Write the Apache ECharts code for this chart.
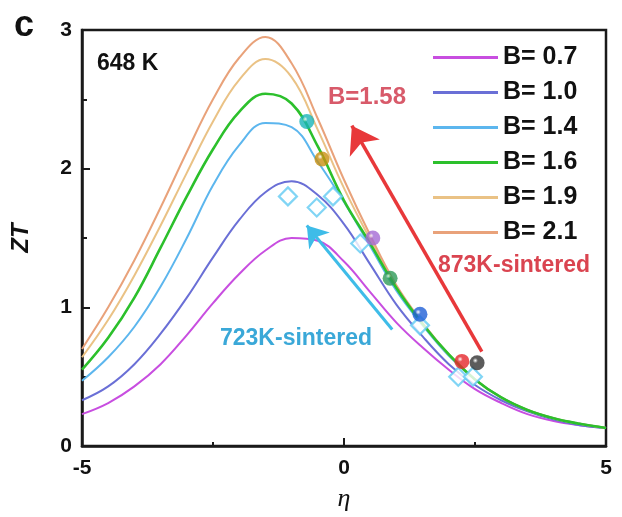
<!DOCTYPE html>
<html>
<head>
<meta charset="utf-8">
<script src="https://cdn.jsdelivr.net/npm/echarts@6/dist/echarts.min.js"></script>
<style>
html, body { margin: 0; padding: 0; background: #fff; }
#zt { width: 622px; height: 517px; }
</style>
</head>
<body>
<div id="zt"></div>
<script>
var names = ['B= 0.7', 'B= 1.0', 'B= 1.4', 'B= 1.6', 'B= 1.9', 'B= 2.1'];
var colors = ['#c84ee0', '#6a6fd6', '#5cb6ee', '#2cc02c', '#eac285', '#e9a27a'];

// eta grid and ZT values
var eta = [-5, -4.5, -4, -3.5, -3, -2.5, -2, -1.5, -1, -0.5, 0, 0.5, 1, 1.5, 2, 2.5, 3, 3.5, 4, 4.5, 5];
var b07 = [0.23, 0.31, 0.43, 0.59, 0.80, 1.03, 1.24, 1.41, 1.50, 1.48, 1.33, 1.11, 0.89, 0.71, 0.55, 0.41, 0.31, 0.23, 0.18, 0.15, 0.13];
var b10 = [0.33, 0.43, 0.59, 0.81, 1.07, 1.36, 1.63, 1.83, 1.91, 1.81, 1.60, 1.31, 1.02, 0.79, 0.59, 0.44, 0.33, 0.25, 0.19, 0.15, 0.13];
var b14 = [0.47, 0.64, 0.86, 1.15, 1.50, 1.88, 2.17, 2.33, 2.30, 2.05, 1.76, 1.44, 1.12, 0.87, 0.65, 0.48, 0.35, 0.26, 0.20, 0.16, 0.13];
var b16 = [0.55, 0.78, 1.07, 1.43, 1.80, 2.14, 2.41, 2.54, 2.47, 2.16, 1.77, 1.46, 1.14, 0.88, 0.66, 0.48, 0.35, 0.26, 0.20, 0.16, 0.13];
var b19 = [0.64, 0.91, 1.23, 1.59, 1.97, 2.34, 2.64, 2.79, 2.66, 2.28, 1.86, 1.49, 1.15, 0.88, 0.66, 0.48, 0.35, 0.26, 0.20, 0.16, 0.13];
var b21 = [0.70, 1.00, 1.34, 1.72, 2.12, 2.50, 2.80, 2.95, 2.76, 2.36, 1.92, 1.52, 1.16, 0.89, 0.66, 0.48, 0.35, 0.26, 0.20, 0.16, 0.13];
var curves = [b07, b10, b14, b16, b19, b21];

// 873K-sintered samples (balls)
var balls = [[-0.71, 2.34], [-0.42, 2.07], [0.55, 1.5], [0.88, 1.21], [1.45, 0.95], [2.25, 0.61], [2.54, 0.6]];
var ballColors = ['#19b4b8', '#c88f10', '#a46ad4', '#2e9a58', '#1f5fd6', '#e5262b', '#333333'];
// 723K-sintered samples (open diamonds)
var diamonds = [[-1.07, 1.8], [-0.52, 1.72], [-0.21, 1.8], [0.31, 1.46], [1.45, 0.87], [2.18, 0.5], [2.46, 0.5]];

var redArrow = [[2.63, 0.68], [0.15, 2.31]];
var cyanArrow = [[0.92, 0.84], [-0.71, 1.59]];

var xTicks = [-5, 0, 5];
var yTicks = [0, 1, 2, 3];

var chart = echarts.init(document.getElementById('zt'));
var font = 'Arial, "Liberation Sans", sans-serif';

var series = curves.map(function (d, i) {
    return {
        name: names[i],
        type: 'line',
        data: d.map(function (v, k) { return [eta[k], v]; }),
        smooth: 0.4,
        showSymbol: false,
        lineStyle: { color: colors[i], width: i === 3 ? 2.6 : 2 },
        itemStyle: { color: colors[i] },
        z: i === 3 ? 4 : 3
    };
});

series.push({
    name: 'diamonds',
    type: 'scatter',
    symbol: 'diamond',
    symbolSize: 18,
    data: diamonds,
    itemStyle: { color: '#fff', borderColor: '#62cbf3', borderWidth: 2.2 },
    z: 6,
    markLine: {
        silent: true,
        symbol: ['none', 'arrow'],
        symbolSize: 26,
        label: { show: false },
        data: [
            [{ coord: redArrow[0], lineStyle: { color: '#e8383a', width: 3.5, type: 'solid' } }, { coord: redArrow[1] }],
            [{ coord: cyanArrow[0], lineStyle: { color: '#3ebce8', width: 3, type: 'solid' }, symbolSize: 20 }, { coord: cyanArrow[1], symbolSize: 20 }]
        ]
    }
});

series.push({
    name: 'balls',
    type: 'scatter',
    symbolSize: 15,
    z: 7,
    data: balls.map(function (p, i) {
        return {
            value: p,
            itemStyle: {
                color: {
                    type: 'radial', x: 0.38, y: 0.35, r: 0.7,
                    colorStops: [
                        { offset: 0, color: '#ffffff' },
                        { offset: 0.25, color: ballColors[i] },
                        { offset: 1, color: ballColors[i] }
                    ]
                }
            }
        };
    })
});

option = {
    animation: false,
    backgroundColor: '#fff',
    grid: {
        left: 82, top: 30, width: 524, height: 420,
        show: true, borderColor: '#1a1a1a', borderWidth: 2.5
    },
    legend: {
        data: names,
        orient: 'vertical',
        left: 428,
        top: 40,
        icon: 'rect',
        itemWidth: 65,
        itemHeight: 3,
        itemGap: 10,
        textStyle: { fontFamily: font, fontWeight: 'bold', fontSize: 25, lineHeight: 25, color: '#111' }
    },
    xAxis: {
        type: 'value',
        min: -5, max: 5, interval: 5,
        name: 'η',
        nameLocation: 'middle',
        nameGap: 40,
        nameTextStyle: { fontFamily: '"Liberation Serif", serif', fontStyle: 'italic', fontSize: 26, color: '#111' },
        axisLine: { onZero: false, lineStyle: { color: '#1a1a1a', width: 2.5 } },
        axisTick: { inside: true, length: 8, lineStyle: { width: 2, color: '#1a1a1a' } },
        minorTick: { show: true, splitNumber: 2, length: 4, lineStyle: { width: 2, color: '#1a1a1a' } },
        splitLine: { show: false },
        axisLabel: {
            margin: 12, fontFamily: font, fontWeight: 'bold', fontSize: 21, color: '#111',
            formatter: function (v) { return xTicks.indexOf(v) >= 0 ? String(v) : ''; }
        }
    },
    yAxis: {
        type: 'value',
        min: 0, max: 3, interval: 1,
        name: 'ZT',
        nameLocation: 'middle',
        nameGap: 49,
        nameTextStyle: { fontFamily: font, fontStyle: 'italic', fontWeight: 'bold', fontSize: 24, color: '#111' },
        axisLine: { onZero: false, lineStyle: { color: '#1a1a1a', width: 2.5 } },
        axisTick: { inside: true, length: 8, lineStyle: { width: 2, color: '#1a1a1a' } },
        minorTick: { show: true, splitNumber: 2, length: 5, lineStyle: { width: 2, color: '#1a1a1a' } },
        splitLine: { show: false },
        axisLabel: {
            margin: 10, fontFamily: font, fontWeight: 'bold', fontSize: 21, color: '#111',
            formatter: function (v) { return yTicks.indexOf(v) >= 0 ? String(v) : ''; }
        }
    },
    graphic: [
        { type: 'text', left: 14, top: 8, style: { text: 'c', font: 'bold 36px ' + font, fill: '#111' } },
        { type: 'text', left: 97, top: 52, style: { text: '648 K', font: 'bold 23px ' + font, fill: '#111' } },
        { type: 'text', left: 328, top: 85, style: { text: 'B=1.58', font: 'bold 24px ' + font, fill: '#d85a6a' } },
        { type: 'text', left: 438, top: 254, style: { text: '873K-sintered', font: 'bold 23px ' + font, fill: '#da4450' } },
        { type: 'text', left: 220, top: 327, style: { text: '723K-sintered', font: 'bold 23px ' + font, fill: '#3aa8d8' } }
    ],
    series: series
};
chart.setOption(option);
</script>
</body>
</html>
